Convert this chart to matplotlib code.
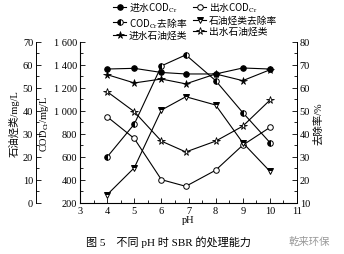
import numpy as np
import matplotlib.pyplot as plt
from matplotlib.ticker import MultipleLocator, FuncFormatter

plt.rcParams['font.family'] = ['Liberation Serif', 'Noto Sans CJK SC']
plt.rcParams['mathtext.fontset'] = 'stix'

# pH values (x)
ph = [4, 5, 6, 6.9, 8, 9, 10]

# COD (mg/L), middle axis
cod_in = [1365, 1371, 1335, 1322, 1322, 1374, 1365]
cod_out = [950, 761, 403, 345, 485, 703, 857]

# petroleum hydrocarbons (mg/L), outer left axis
oil_in = [55.8, 52.2, 53.9, 51.8, 56.1, 53.2, 57.9]
oil_out = [48.4, 39.7, 26.9, 22.2, 26.9, 33.4, 44.7]

# removal rates (%), right axis
cod_rm = [30.0, 44.3, 69.6, 74.4, 63.2, 49.3, 36.3]
oil_rm = [13.6, 25.3, 50.4, 56.2, 52.6, 36.2, 23.8]

fig = plt.figure(figsize=(3.44, 2.55), dpi=100)
ax = fig.add_axes([0.2326, 0.2, 0.6308, 0.6314])
ax_oil = ax.twinx()
ax_rm = ax.twinx()

fs = 7.5
lw = 0.8
ms = 4

def thousands(v, pos):
    v = int(round(v))
    if v >= 1000:
        return '%d %03d' % (v // 1000, v % 1000)
    return str(v)

def style_ticks(a):
    a.tick_params(which='both', direction='in', labelsize=fs, width=0.6, pad=2)
    a.tick_params(which='major', length=3.5)
    a.tick_params(which='minor', length=2)

# main COD axis
ax.set_xlim(3, 11)
ax.set_ylim(200, 1600)
ax.yaxis.set_major_locator(MultipleLocator(200))
ax.yaxis.set_minor_locator(MultipleLocator(100))
ax.yaxis.set_major_formatter(FuncFormatter(thousands))
ax.xaxis.set_major_locator(MultipleLocator(1))
ax.xaxis.set_minor_locator(MultipleLocator(0.5))
ax.spines['top'].set_visible(False)
style_ticks(ax)
ax.set_xlabel('pH', fontsize=fs, labelpad=0)
ax.set_ylabel(r'COD$_{\mathrm{Cr}}$/mg/L', fontsize=fs, labelpad=2)
for s in ax.spines.values():
    s.set_linewidth(0.7)

# outer left oil axis
ax_oil.set_ylim(0, 70)
ax_oil.yaxis.set_label_position('left')
ax_oil.yaxis.set_ticks_position('left')
ax_oil.spines['left'].set_position(('axes', -0.203))
ax_oil.spines['left'].set_visible(True)
ax_oil.spines['left'].set_linewidth(0.7)
ax_oil.spines['right'].set_visible(False)
ax_oil.spines['top'].set_visible(False)
ax_oil.spines['bottom'].set_visible(False)
ax_oil.yaxis.set_major_locator(MultipleLocator(10))
ax_oil.yaxis.set_minor_locator(MultipleLocator(5))
style_ticks(ax_oil)
ax_oil.set_ylabel('石油烃类/mg/L', fontsize=fs, labelpad=2)

# right removal axis
ax_rm.set_ylim(10, 80)
ax_rm.spines['top'].set_visible(False)
ax_rm.spines['right'].set_linewidth(0.7)
ax_rm.yaxis.set_major_locator(MultipleLocator(10))
ax_rm.yaxis.set_minor_locator(MultipleLocator(5))
style_ticks(ax_rm)
ax_rm.set_ylabel('去除率/%', fontsize=fs, labelpad=2)

kw = dict(color='black', lw=lw, ms=ms, mec='black', mew=0.7)
h1, = ax.plot(ph, cod_in, marker='o', mfc='black',
              label=r'进水COD$_{\mathrm{Cr}}$', **kw)
h2, = ax.plot(ph, cod_out, marker='o', mfc='white',
              label=r'出水COD$_{\mathrm{Cr}}$', **kw)
h3, = ax_rm.plot(ph, cod_rm, marker='o', fillstyle='left', mfc='black',
                 mfcalt='white', label=r'COD$_{\mathrm{Cr}}$去除率', **kw)
h4, = ax_rm.plot(ph, oil_rm, marker='v', fillstyle='top', mfc='black',
                 mfcalt='white', label='石油烃类去除率', **kw)
h5, = ax_oil.plot(ph, oil_in, marker='*', mfc='black', label='进水石油烃类',
                  color='black', lw=lw, ms=ms + 1.5, mec='black', mew=0.5)
h6, = ax_oil.plot(ph, oil_out, marker='*', mfc='white', label='出水石油烃类',
                  color='black', lw=lw, ms=ms + 1.5, mec='black', mew=0.6)

leg = fig.legend(handles=[h1, h3, h5, h2, h4, h6], ncol=2, frameon=False,
                 prop={'family': 'Noto Sans CJK SC', 'size': fs - 0.5},
                 loc='upper left', bbox_to_anchor=(0.31, 1.02),
                 handlelength=1.3, handletextpad=0.3, columnspacing=0.6,
                 labelspacing=0.1, borderpad=0.2)

fig.text(0.49, 0.05, '图 5    不同 pH 时 SBR 的处理能力', ha='center', va='center',
         fontsize=fs + 0.5)
fig.text(0.9, 0.05, '乾来环保', ha='center', va='center', fontsize=fs,
         color='#999999')

fig.savefig('out.png', dpi=100)
